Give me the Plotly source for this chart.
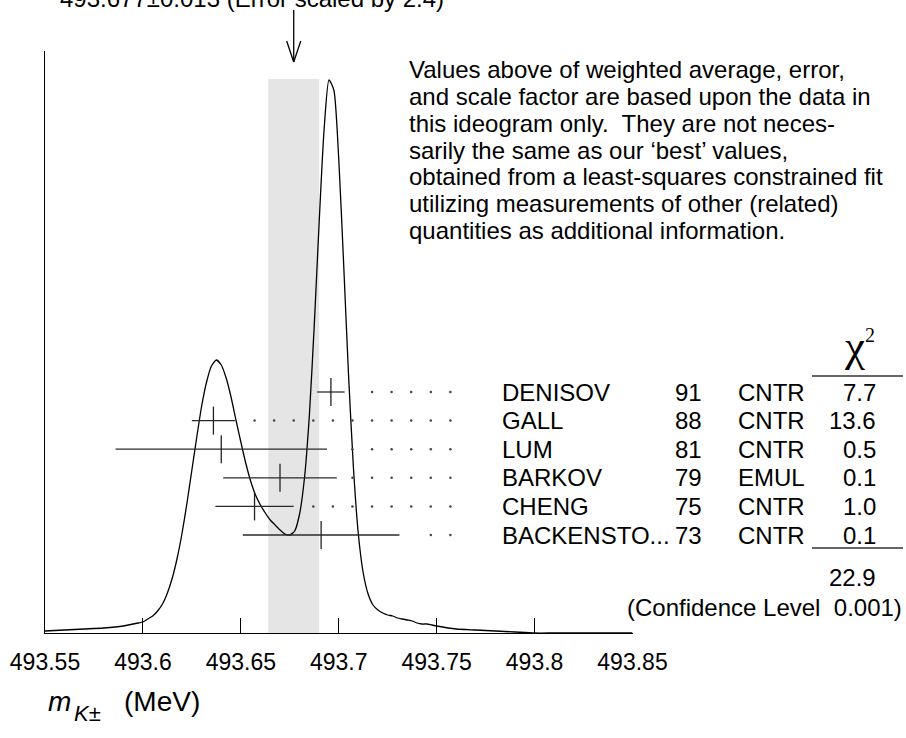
import plotly.graph_objects as go

W, H = 906, 738
def px(v): return v / W
def py(v): return 1 - v / H

experiments = ["DENISOV", "GALL", "LUM", "BARKOV", "CHENG", "BACKENSTO..."]
years = ["91", "88", "81", "79", "75", "73"]
techniques = ["CNTR", "CNTR", "CNTR", "EMUL", "CNTR", "CNTR"]
chi2 = ["7.7", "13.6", "0.5", "0.1", "1.0", "0.1"]
mass = [493.696, 493.636, 493.640, 493.670, 493.657, 493.691]
err = [0.007, 0.011, 0.054, 0.029, 0.020, 0.040]
avg, avg_err = 493.677, 0.013
chi2_total, conf_level = "22.9", "0.001"
tick_vals = [493.55, 493.6, 493.65, 493.7, 493.75, 493.8, 493.85]
tick_text = ["493.55", "493.6", "493.65", "493.7", "493.75", "493.8", "493.85"]

# ideogram curve (mass in MeV, height in ideogram units)
ideo_mass = [493.55, 493.56, 493.57, 493.58,
             493.59, 493.5925, 493.595, 493.5975, 493.60, 493.6025, 493.605, 493.6075,
             493.61, 493.6125, 493.615, 493.6175, 493.62, 493.6225, 493.625, 493.6275,
             493.63, 493.6325, 493.635, 493.6375, 493.64, 493.6425, 493.645, 493.6475,
             493.65, 493.6525, 493.655, 493.6575, 493.66, 493.6625, 493.665, 493.6675,
             493.67, 493.6725, 493.675, 493.6775, 493.68, 493.6825, 493.685, 493.6875,
             493.69, 493.6925, 493.695, 493.6975, 493.70, 493.7025, 493.705, 493.7075,
             493.71, 493.7125, 493.715, 493.7175, 493.72, 493.7225, 493.725, 493.7275,
             493.73, 493.7325, 493.735, 493.7375, 493.74, 493.7425, 493.745, 493.7475,
             493.75, 493.76, 493.77, 493.78, 493.79, 493.80, 493.81, 493.82, 493.83, 493.84, 493.85]
ideo_height = [2, 3, 4, 5,
               7, 8, 9, 10, 11, 14, 17, 22,
               29, 40, 55, 75, 100, 130, 163, 196,
               227, 251, 267, 273, 268, 255, 236, 213,
               191, 170, 152, 138, 128, 120, 113, 108,
               103, 99, 98, 102, 119, 155, 218, 308,
               411, 503, 553, 543, 474, 369, 258, 165,
               99, 60, 39, 28, 23, 20, 18, 17,
               15, 14, 13, 12, 10, 9, 9, 8,
               7, 4, 3, 2, 1, 0, 0, 0, 0, 0, 0]

FONT = "Liberation Sans, Arial, Helvetica, sans-serif"
SERIF = "Liberation Serif, Times New Roman, serif"
row_h = [241 - 28.6 * i for i in range(6)]

fig = go.Figure()
fig.add_trace(go.Scatter(x=ideo_mass, y=ideo_height, mode="lines",
                         line=dict(color="black", width=1.3, shape="spline", smoothing=0.6), hoverinfo="skip"))

# leader dots
dot_grid = [493.657 + 0.01 * k for k in range(11)]
dx, dy = [], []
for m, s, h in zip(mass, err, row_h):
    for d in dot_grid:
        if d > m + s + 0.007:
            dx.append(d); dy.append(h)
fig.add_trace(go.Scatter(x=dx, y=dy, mode="markers", marker=dict(size=2.5, color="#444"), hoverinfo="skip"))

fig.add_trace(go.Scatter(
    x=mass, y=row_h, mode="markers",
    error_x=dict(type="data", array=err, visible=True, width=0, thickness=1.3, color="#2a2a2a"),
    marker=dict(symbol="line-ns-open", size=20, color="#222", line=dict(width=1.3, color="#222")),
    hoverinfo="skip"))

shapes = [
    dict(type="rect", xref="x", yref="y", x0=avg - avg_err, x1=avg + avg_err, y0=0, y1=554,
         fillcolor="#e5e5e5", line=dict(width=0), layer="below"),
    dict(type="line", xref="x", yref="paper", x0=avg, x1=avg, y0=py(10), y1=py(62), line=dict(color="black", width=1.3)),
    dict(type="line", xref="x", yref="paper", x0=avg - 0.0036, x1=avg, y0=py(41), y1=py(62), line=dict(color="black", width=1.3)),
    dict(type="line", xref="x", yref="paper", x0=avg + 0.0036, x1=avg, y0=py(41), y1=py(62), line=dict(color="black", width=1.3)),
    dict(type="line", xref="paper", yref="paper", x0=px(812), x1=px(903), y0=py(376), y1=py(376), line=dict(color="#333", width=1.3)),
    dict(type="line", xref="paper", yref="paper", x0=px(812), x1=px(903), y0=py(548), y1=py(548), line=dict(color="#333", width=1.3)),
]

ann = []
def txt(t, x, y, xa="left", size=24, yref="paper", family=FONT, ya="middle"):
    ann.append(dict(text=t, x=x, y=y, xref="paper", yref=yref, xanchor=xa, yanchor=ya,
                    showarrow=False, font=dict(family=family, size=size, color="black")))

for e, yr, tq, c, h in zip(experiments, years, techniques, chi2, row_h):
    txt(e, px(500), h, "left", yref="y")
    txt(yr, px(704), h, "right", yref="y")
    txt(tq, px(736), h, "left", yref="y")
    txt(c, px(878), h, "right", yref="y")

note = ["Values above of weighted average, error,",
        "and scale factor are based upon the data in",
        "this ideogram only.  They are not neces-",
        "sarily the same as our \u2018best\u2019 values,",
        "obtained from a least-squares constrained fit",
        "utilizing measurements of other (related)",
        "quantities as additional information."]
for i, line in enumerate(note):
    txt(line, px(407), py(70 + 26.7 * i), "left")

txt("\u03c7<sup><span style='font-size:20px'>2</span></sup>", px(842), py(346), "left", size=45, family=SERIF)
txt(chi2_total, px(878), py(577), "right")
txt("(Confidence Level  " + conf_level + ")", px(904), py(607), "right")
txt("493.677\u00b10.013 (Error scaled by 2.4)", px(252), py(-2), "center")
txt("<i>m</i>", px(46), py(701), "left", size=28)
txt("<i>K</i>\u00b1", px(72), py(713), "left", size=22)
txt("(MeV)", px(122), py(701), "left", size=28)

fig.update_layout(
    width=W, height=H, margin=dict(l=0, r=0, t=0, b=0, pad=0, autoexpand=False),
    paper_bgcolor="white", plot_bgcolor="rgba(0,0,0,0)", showlegend=False,
    shapes=shapes, annotations=ann,
    xaxis=dict(domain=[px(45), px(632.5)], range=[493.55, 493.85], showline=True, linecolor="black", linewidth=1.3,
               ticks="inside", ticklen=15, tickwidth=1.3, tickcolor="black", tickvals=tick_vals, ticktext=tick_text,
               tickfont=dict(family=FONT, size=23, color="black"), showgrid=False, zeroline=False,
               ticklabelstandoff=8, automargin=False),
    yaxis=dict(domain=[1 - 633 / H, 1 - 51 / H], range=[0, 582], showline=True, linecolor="black", linewidth=1.3,
               showticklabels=False, ticks="", showgrid=False, zeroline=False, automargin=False),
)
fig.write_html("out.html")
